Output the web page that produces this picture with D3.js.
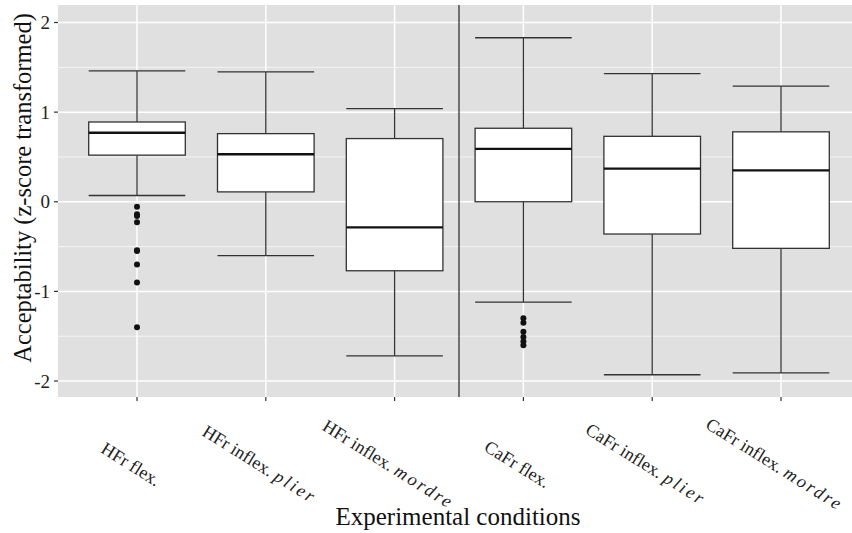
<!DOCTYPE html>
<html><head><meta charset="utf-8">
<script src="https://cdn.jsdelivr.net/npm/d3@7"></script>
<style>body{margin:0;background:#fff}svg{display:block}</style>
</head><body>
<svg id="chart" width="852" height="533"></svg>
<script>
const labelMain = ["HFr flex.", "HFr inflex. ", "HFr inflex. ", "CaFr flex.", "CaFr inflex. ", "CaFr inflex. "];
const labelItalic = ["", "plier", "mordre", "", "plier", "mordre"];
const upperWhisker = [1.46, 1.45, 1.04, 1.83, 1.43, 1.29];
const q3 = [0.89, 0.76, 0.705, 0.82, 0.73, 0.78];
const median = [0.77, 0.53, -0.285, 0.59, 0.37, 0.35];
const q1 = [0.52, 0.11, -0.77, 0.0, -0.36, -0.52];
const lowerWhisker = [0.07, -0.60, -1.72, -1.12, -1.93, -1.91];
const outliers = [
  [-0.056, -0.14, -0.16, -0.23, -0.54, -0.55, -0.70, -0.90, -1.40],
  [], [],
  [-1.30, -1.35, -1.45, -1.51, -1.56, -1.60],
  [], []
];
const yTicks = [-2, -1, 0, 1, 2];
const yMinor = [-1.5, -0.5, 0.5, 1.5];
const dividerAt = 3.5;

const svg = d3.select("#chart");
const panel = {x0: 58, x1: 852, y0: 5, y1: 397};
const x = d3.scaleLinear().domain([1, 6]).range([137, 781]);
const y = d3.scaleLinear().domain([-2, 2]).range([381, 22.5]);
const step = x(2) - x(1);
const bw = step * 0.75;
const font = "'Liberation Serif', 'Times New Roman', serif";

svg.append("rect").attr("x", panel.x0).attr("y", panel.y0)
  .attr("width", panel.x1 - panel.x0).attr("height", panel.y1 - panel.y0).attr("fill", "#e0e0e0");

const g = svg.append("g");
g.selectAll(".ymin").data(yMinor).join("line")
  .attr("x1", panel.x0).attr("x2", panel.x1).attr("y1", d => y(d)).attr("y2", d => y(d))
  .attr("stroke", "#f4f4f4").attr("stroke-width", 1);
g.selectAll(".ymaj").data(yTicks).join("line")
  .attr("x1", panel.x0).attr("x2", panel.x1).attr("y1", d => y(d)).attr("y2", d => y(d))
  .attr("stroke", "#fff").attr("stroke-width", 1.5);
g.selectAll(".xmaj").data(d3.range(6)).join("line")
  .attr("x1", i => x(i + 1)).attr("x2", i => x(i + 1)).attr("y1", panel.y0).attr("y2", panel.y1)
  .attr("stroke", "#fff").attr("stroke-width", 1.5);

g.append("line").attr("x1", x(dividerAt)).attr("x2", x(dividerAt))
  .attr("y1", panel.y0).attr("y2", panel.y1).attr("stroke", "#333").attr("stroke-width", 1.3);

const col = "#333";
const boxes = g.selectAll(".box").data(d3.range(6)).join("g");
boxes.append("line").attr("x1", i => x(i + 1) - bw / 2).attr("x2", i => x(i + 1) + bw / 2)
  .attr("y1", i => y(upperWhisker[i])).attr("y2", i => y(upperWhisker[i])).attr("stroke", col).attr("stroke-width", 1.3);
boxes.append("line").attr("x1", i => x(i + 1) - bw / 2).attr("x2", i => x(i + 1) + bw / 2)
  .attr("y1", i => y(lowerWhisker[i])).attr("y2", i => y(lowerWhisker[i])).attr("stroke", col).attr("stroke-width", 1.3);
boxes.append("line").attr("x1", i => x(i + 1)).attr("x2", i => x(i + 1))
  .attr("y1", i => y(upperWhisker[i])).attr("y2", i => y(q3[i])).attr("stroke", col).attr("stroke-width", 1.3);
boxes.append("line").attr("x1", i => x(i + 1)).attr("x2", i => x(i + 1))
  .attr("y1", i => y(q1[i])).attr("y2", i => y(lowerWhisker[i])).attr("stroke", col).attr("stroke-width", 1.3);
boxes.append("rect").attr("x", i => x(i + 1) - bw / 2).attr("width", bw)
  .attr("y", i => y(q3[i])).attr("height", i => y(q1[i]) - y(q3[i]))
  .attr("fill", "#fff").attr("stroke", col).attr("stroke-width", 1.3);
boxes.append("line").attr("x1", i => x(i + 1) - bw / 2).attr("x2", i => x(i + 1) + bw / 2)
  .attr("y1", i => y(median[i])).attr("y2", i => y(median[i])).attr("stroke", "#111").attr("stroke-width", 2.3);
boxes.each(function(i) {
  d3.select(this).selectAll("circle").data(outliers[i]).join("circle")
    .attr("cx", x(i + 1)).attr("cy", d => y(d)).attr("r", 3).attr("fill", "#111");
});

const ya = svg.append("g");
ya.selectAll("line").data(yTicks).join("line")
  .attr("x1", panel.x0 - 4).attr("x2", panel.x0).attr("y1", d => y(d)).attr("y2", d => y(d))
  .attr("stroke", "#333").attr("stroke-width", 1.2);
ya.selectAll("text").data(yTicks).join("text")
  .attr("x", panel.x0 - 8).attr("y", d => y(d)).attr("dy", "0.35em")
  .attr("text-anchor", "end").attr("font-family", font).attr("font-size", 19).attr("fill", "#222")
  .text(d => d);

const xa = svg.append("g");
xa.selectAll("line").data(d3.range(6)).join("line")
  .attr("x1", i => x(i + 1)).attr("x2", i => x(i + 1)).attr("y1", panel.y1).attr("y2", panel.y1 + 4)
  .attr("stroke", "#333").attr("stroke-width", 1.2);
const xl = xa.selectAll("text").data(d3.range(6)).join("text")
  .attr("transform", i => `translate(${x(i + 1) - 6},464) rotate(32)`)
  .attr("text-anchor", "middle").attr("dy", "0.35em")
  .attr("font-family", font).attr("font-size", 18).attr("fill", "#222");
xl.append("tspan").text(i => labelMain[i]);
xl.append("tspan").attr("font-style", "italic").attr("letter-spacing", 2.5).text(i => labelItalic[i]);

svg.append("text").attr("transform", "translate(31,188) rotate(-90)").attr("text-anchor", "middle")
  .attr("font-family", font).attr("font-size", 24.5).attr("fill", "#111")
  .text("Acceptability (z-score transformed)");
svg.append("text").attr("x", 458).attr("y", 525).attr("text-anchor", "middle")
  .attr("font-family", font).attr("font-size", 25).attr("fill", "#111")
  .text("Experimental conditions");
</script>
</body></html>
